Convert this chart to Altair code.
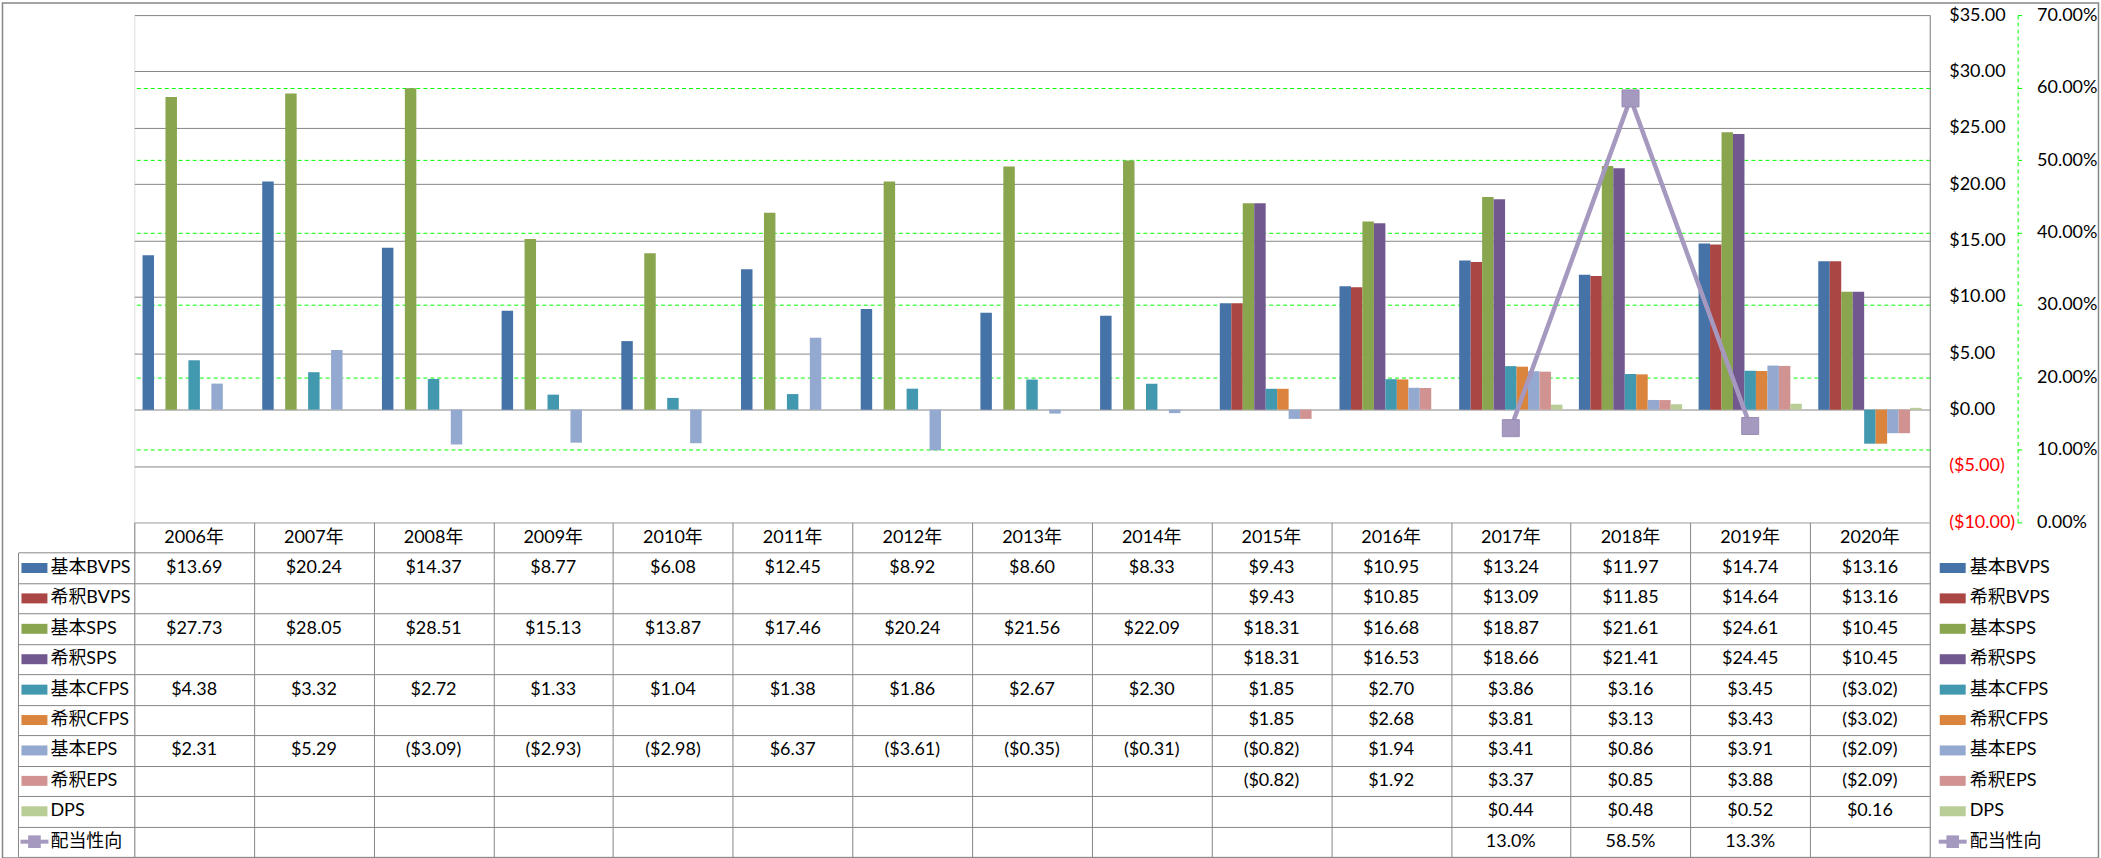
import altair as alt
import pandas as pd

# ---------------- data ----------------
years = ["2006年", "2007年", "2008年", "2009年", "2010年", "2011年", "2012年", "2013年",
         "2014年", "2015年", "2016年", "2017年", "2018年", "2019年", "2020年"]

bar_series = ["基本BVPS", "希釈BVPS", "基本SPS", "希釈SPS", "基本CFPS", "希釈CFPS",
              "基本EPS", "希釈EPS", "DPS"]
line_series = "配当性向"

bvps_basic = [13.69, 20.24, 14.37, 8.77, 6.08, 12.45, 8.92, 8.60, 8.33, 9.43, 10.95, 13.24, 11.97, 14.74, 13.16]
bvps_dil = [None, None, None, None, None, None, None, None, None, 9.43, 10.85, 13.09, 11.85, 14.64, 13.16]
sps_basic = [27.73, 28.05, 28.51, 15.13, 13.87, 17.46, 20.24, 21.56, 22.09, 18.31, 16.68, 18.87, 21.61, 24.61, 10.45]
sps_dil = [None, None, None, None, None, None, None, None, None, 18.31, 16.53, 18.66, 21.41, 24.45, 10.45]
cfps_basic = [4.38, 3.32, 2.72, 1.33, 1.04, 1.38, 1.86, 2.67, 2.30, 1.85, 2.70, 3.86, 3.16, 3.45, -3.02]
cfps_dil = [None, None, None, None, None, None, None, None, None, 1.85, 2.68, 3.81, 3.13, 3.43, -3.02]
eps_basic = [2.31, 5.29, -3.09, -2.93, -2.98, 6.37, -3.61, -0.35, -0.31, -0.82, 1.94, 3.41, 0.86, 3.91, -2.09]
eps_dil = [None, None, None, None, None, None, None, None, None, -0.82, 1.92, 3.37, 0.85, 3.88, -2.09]
dps = [None, None, None, None, None, None, None, None, None, None, None, 0.44, 0.48, 0.52, 0.16]
payout = [None, None, None, None, None, None, None, None, None, None, None, 0.130, 0.585, 0.133, None]

bar_values = [bvps_basic, bvps_dil, sps_basic, sps_dil, cfps_basic, cfps_dil, eps_basic, eps_dil, dps]

bar_colors = ["#4572A7", "#AA4643", "#89A54E", "#71588F", "#4198AF", "#DB843D",
              "#93A9CF", "#D19392", "#B9CD96"]
LINE_COLOR = "#A699BF"
GRAY = "#868686"
GREEN = "#00FF00"
FONT = "Lato, 'Noto Sans CJK JP', sans-serif"
FS = 18

# ---------------- tables ----------------
recs = []
for name, vals in zip(bar_series, bar_values):
    for y, v in zip(years, vals):
        if v is not None:
            recs.append({"year": y, "series": name, "value": v})
bars_df = pd.DataFrame(recs)

line_df = pd.DataFrame([{"year": y, "series": line_series, "value": v}
                        for y, v in zip(years, payout) if v is not None])

cells_df = pd.concat([bars_df, line_df], ignore_index=True).rename(columns={"series": "row"})
header_df = pd.DataFrame({"year": years, "row": ["header"] * len(years)})
legend_df = pd.DataFrame({"row": bar_series + [line_series]})
bar_legend_df = pd.DataFrame({"row": bar_series})
line_legend_df = pd.DataFrame({"row": [line_series]})

rows = ["header"] + bar_series + [line_series]

W = 1798
H_TOP = 508
H_TAB = 335
ROW_H = H_TAB / len(rows)

color_scale = alt.Scale(domain=bar_series + [line_series], range=bar_colors + [LINE_COLOR])

# ---------------- top chart ----------------
x_top = alt.X("year:N", scale=alt.Scale(domain=years, paddingInner=0.1375, paddingOuter=0.06875), axis=None)

bars = alt.Chart(bars_df).mark_bar().encode(
    x=x_top,
    xOffset=alt.XOffset("series:N", scale=alt.Scale(domain=bar_series, paddingInner=0, paddingOuter=0)),
    y=alt.Y("value:Q",
            scale=alt.Scale(domain=[-10, 35], nice=False, zero=False),
            axis=alt.Axis(orient="right", values=[-10, -5, 0, 5, 10, 15, 20, 25, 30, 35],
                          labelExpr="datum.value < 0 ? '($' + format(-datum.value, '.2f') + ')' : '$' + format(datum.value, '.2f')",
                          labelColor={"expr": "datum.value < 0 ? '#FF0000' : '#000000'"},
                          grid=True, gridColor=GRAY, gridWidth=1,
                          ticks=False, domain=True, domainColor=GRAY, domainWidth=1,
                          labelPadding=19, labelAlign="left",
                          labelFont=FONT, labelFontSize=FS, title=None)),
    color=alt.Color("series:N", scale=color_scale, legend=None),
)

y_pct = alt.Y("value:Q",
              scale=alt.Scale(domain=[0, 0.7], nice=False, zero=False),
              axis=alt.Axis(orient="right", offset=88, values=[0, 0.1, 0.2, 0.3, 0.4, 0.5, 0.6, 0.7],
                            format=".2%", grid=True, gridColor=GREEN, gridDash=[4, 3], gridWidth=1,
                            gridOpacity={"expr": "datum.value > 0.05 && datum.value < 0.65 ? 1 : 0"},
                            domain=True, domainColor=GREEN, domainDash=[4, 3], domainWidth=1,
                            ticks=True, tickColor=GREEN, tickSize=4, tickWidth=1,
                            labelPadding=15, labelFont=FONT, labelFontSize=FS, labelColor="#000000",
                            title=None))

line = alt.Chart(line_df).mark_line(color=LINE_COLOR, strokeWidth=4.5).encode(x=x_top, y=y_pct)
pts = alt.Chart(line_df).mark_point(shape="square", filled=True, size=289, opacity=1,
                                    color=LINE_COLOR, stroke="#9A8DB5", strokeWidth=1).encode(x=x_top, y=y_pct)

top = alt.layer(bars, alt.layer(line, pts)).resolve_scale(y="independent").properties(width=W, height=H_TOP)

# ---------------- table chart ----------------
x_tab = alt.X("year:N", scale=alt.Scale(domain=years, paddingInner=0, paddingOuter=0),
              axis=alt.Axis(tickBand="extent", grid=True, gridColor=GRAY, gridWidth=1,
                            labels=False, ticks=False, domain=False, title=None))
y_tab = alt.Y("row:N", scale=alt.Scale(domain=rows, paddingInner=0, paddingOuter=0),
              axis=alt.Axis(values=rows[1:], tickBand="extent", grid=True, gridColor=GRAY, gridWidth=1,
                            ticks=True, tickSize=116, tickColor=GRAY, tickWidth=1,
                            labels=False, domain=False, title=None))

cells = alt.Chart(cells_df).transform_calculate(
    label="datum.row == '配当性向' ? format(datum.value, '.1%') : (datum.value < 0 ? '($' + format(-datum.value, '.2f') + ')' : '$' + format(datum.value, '.2f'))"
).mark_text(font=FONT, fontSize=FS, color="#000000", align="center", baseline="middle").encode(
    x=x_tab, y=y_tab, text="label:N")

header = alt.Chart(header_df).mark_text(font=FONT, fontSize=FS, color="#000000",
                                        align="center", baseline="middle").encode(
    x=x_tab, y=y_tab, text="year:N")

left_border = alt.Chart(pd.DataFrame({"k": [0]})).mark_rule(color=GRAY, strokeWidth=1).encode(
    x=alt.value(-116), y=alt.value(ROW_H), y2=alt.value(H_TAB))

outer_border = alt.Chart(pd.DataFrame({"k": [0]})).mark_rect(
    fillOpacity=0, stroke=GRAY, strokeWidth=1.5).encode(
    x=alt.value(-132), x2=alt.value(1967), y=alt.value(-520), y2=alt.value(336))


def legend_column(swatch_x, text_x):
    sw = alt.Chart(bar_legend_df).mark_tick(orient="horizontal", size=26, thickness=10, opacity=1).encode(
        x=alt.value(swatch_x), y=y_tab, color=alt.Color("row:N", scale=color_scale, legend=None))
    lsw = alt.Chart(line_legend_df).mark_tick(orient="horizontal", size=28, thickness=4, opacity=1,
                                              color=LINE_COLOR).encode(x=alt.value(swatch_x), y=y_tab)
    lpt = alt.Chart(line_legend_df).mark_point(shape="square", filled=True, size=160, opacity=1,
                                               color=LINE_COLOR).encode(x=alt.value(swatch_x), y=y_tab)
    txt = alt.Chart(legend_df).mark_text(font=FONT, fontSize=FS, color="#000000",
                                         align="left", baseline="middle").encode(
        x=alt.value(text_x), y=y_tab, text="row:N")
    return [sw, lsw, lpt, txt]


table = alt.layer(
    cells, header, left_border, outer_border,
    *legend_column(-100, -84),
    *legend_column(1821, 1838),
).properties(width=W, height=H_TAB)

chart = alt.vconcat(top, table, spacing=0, bounds="flush").resolve_scale(
    x="independent", y="independent", color="independent"
).properties(
    padding={"left": 0.5, "top": 0.5, "right": 0.5, "bottom": 0.5}
).configure_view(strokeWidth=0).configure(background="#FFFFFF")

chart.save("out.html", embed_options={"renderer": "svg", "actions": False})
